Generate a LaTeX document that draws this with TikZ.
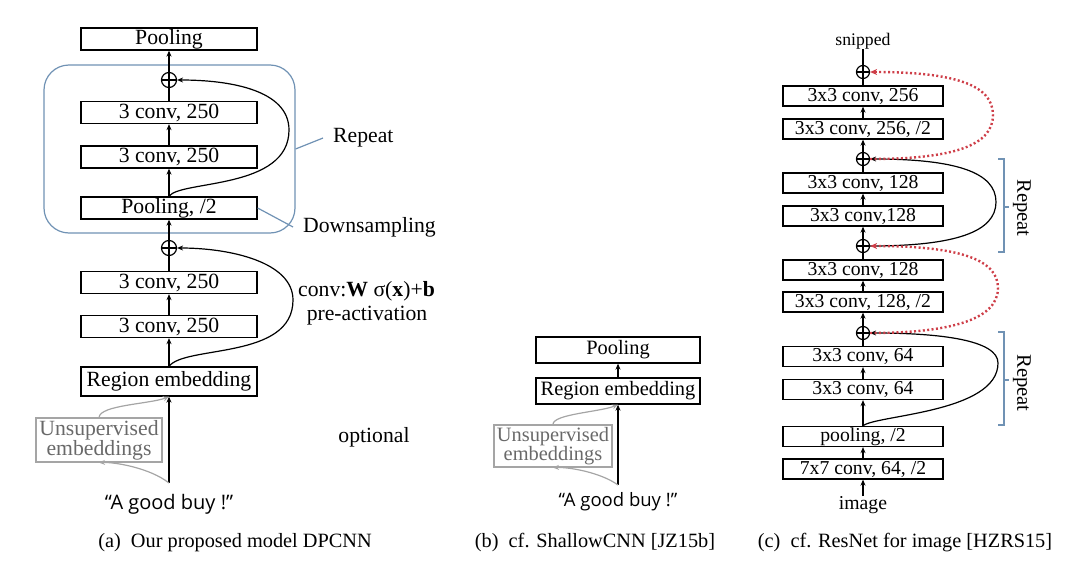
\documentclass[tikz,border=0pt]{standalone}
\usepackage{fontspec}
\setmainfont{Liberation Serif}
\newfontfamily\comicfont{Open Sans}
\usetikzlibrary{arrows.meta}

\definecolor{repblue}{RGB}{112,146,180}
\definecolor{skipred}{RGB}{206,62,72}
\definecolor{unsgray}{RGB}{165,165,165}
\definecolor{unstext}{RGB}{105,105,105}

\tikzset{
  layer/.style={draw, line width=1.3pt, inner sep=0pt, minimum width=176pt, minimum height=22pt,
                font=\fontsize{21.7}{24}\selectfont},
  layerb/.style={layer, minimum width=164pt, minimum height=26pt, font=\fontsize{20.4}{23}\selectfont},
  layerc/.style={layer, minimum width=160pt, minimum height=20pt, font=\fontsize{19.7}{22}\selectfont},
  addnode/.style={circle, draw, line width=1.2pt, inner sep=0pt, minimum size=#1,
                  path picture={\draw[line width=1.2pt] (path picture bounding box.north) -- (path picture bounding box.south)
                                (path picture bounding box.west) -- (path picture bounding box.east);}},
  unsup/.style={draw=unsgray, line width=1.2pt, inner sep=0pt, text=unstext, align=center},
  link/.style={line width=1.2pt, -{Stealth[length=6pt,width=5pt]}},
  plain/.style={line width=1.2pt},
  graylink/.style={draw=unsgray, line width=1.2pt, -{Stealth[length=6pt,width=5pt]}},
  skip/.style={line width=1.2pt, -{Stealth[length=6pt,width=5pt]}},
  redskip/.style={draw=skipred, line width=2.4pt, dash pattern=on 2pt off 2.4pt,
                  -{Stealth[length=7pt,width=6pt]}},
  note/.style={inner sep=0pt, font=\fontsize{21.7}{24}\selectfont},
  caption/.style={inner sep=0pt, font=\fontsize{20.3}{23}\selectfont},
}

\begin{document}
\begin{tikzpicture}[x=1pt, y=-1pt]
\useasboundingbox (0,0) rectangle (1080,565);

% (a) DPCNN
\node[draw=repblue, line width=1.2pt, rounded corners=25pt, minimum width=251pt, minimum height=168pt] (rep) at (169.5,149) {};
\node[layer] (poolA) at (169,39) {Pooling};
\node[addnode=15pt] (addA1) at (169,80) {};
\node[layer] (convA4) at (169,112.5) {3 conv, 250};
\node[layer] (convA3) at (169,157) {3 conv, 250};
\node[layer] (downA) at (169,208) {Pooling, /2};
\node[addnode=15pt] (addA2) at (169,248) {};
\node[layer] (convA2) at (169,282.5) {3 conv, 250};
\node[layer] (convA1) at (169,326.5) {3 conv, 250};
\node[layer, minimum height=29pt] (regA) at (169,381.5) {Region embedding};
\node[unsup, minimum width=126pt, minimum height=44pt, font=\fontsize{21.7}{20}\selectfont] (unsA) at (99,440) {Unsupervised\\embeddings};
\coordinate (srcA) at (169,483);
\node[inner sep=0pt, font=\comicfont\fontsize{20}{22}\selectfont] (buyA) at (169,504) {“A good buy !”};

\draw[link] (addA1) -- (poolA);
\draw[plain] (convA4) -- (addA1);
\draw[link] (convA3) -- (convA4);
\draw[link] (downA) -- (convA3);
\draw[link] (addA2) -- (downA);
\draw[plain] (convA2) -- (addA2);
\draw[link] (convA1) -- (convA2);
\draw[link] (regA) -- (convA1);
\draw[link] (srcA) -- (regA);
\draw[skip] (downA.north) .. controls (180,180) and (289,190) .. (289,130) .. controls (289,90) and (230,80) .. (addA1.east);
\draw[skip] (regA.north) .. controls (185,345) and (293,360) .. (293,300) .. controls (293,262) and (230,248) .. (addA2.east);
\draw[graylink] (srcA) .. controls (150,468) and (115,462) .. (unsA.south);
\draw[graylink] (unsA.north) .. controls (100,405) and (150,404) .. (regA.south);

\node[note, anchor=west] (repT) at (333,138) {Repeat};
\node[note, anchor=west] (downT) at (303,227) {Downsampling};
\draw[repblue, line width=1.2pt] (rep.east) -- ([xshift=-10pt]repT.west);
\draw[repblue, line width=1.2pt] (downA.east) -- ([xshift=-10pt]downT.west);
\node[note, anchor=west] (convT) at (298,291) {conv:$\mathbf{W}$ σ($\mathbf{x}$)+$\mathbf{b}$};
\node[note] (preT) at (367,316) {pre-activation};
\node[note] (optT) at (374,437) {optional};
\node[caption] (capA) at (235,543) {(a)\ \ Our proposed model DPCNN};

% (b) ShallowCNN
\node[layerb] (poolB) at (618,350) {Pooling};
\node[layerb] (regB) at (618,391) {Region embedding};
\node[unsup, minimum width=118pt, minimum height=42pt, font=\fontsize{20.4}{19}\selectfont] (unsB) at (553,446) {Unsupervised\\embeddings};
\coordinate (srcB) at (618,485);
\node[inner sep=0pt, font=\comicfont\fontsize{18.5}{20}\selectfont] (buyB) at (618,502) {“A good buy !”};
\draw[link] (regB) -- (poolB);
\draw[link] (srcB) -- (regB);
\draw[graylink] (srcB) .. controls (600,472) and (568,467) .. (unsB.south);
\draw[graylink] (unsB.north) .. controls (553,414) and (600,412) .. (regB.south);
\node[caption] (capB) at (595,543) {(b)\ \ cf. ShallowCNN [JZ15b]};

% (c) ResNet
\node[inner sep=0pt, font=\fontsize{17.7}{20}\selectfont] (snipT) at (863,41) {snipped};
\node[addnode=13pt] (addC1) at (863,72) {};
\node[layerc] (convC8) at (863,96) {3x3 conv, 256};
\node[layerc] (convC7) at (863,129) {3x3 conv, 256, /2};
\node[addnode=13pt] (addC2) at (863,159) {};
\node[layerc] (convC6) at (863,183) {3x3 conv, 128};
\node[layerc] (convC5) at (863,216) {3x3 conv,128};
\node[addnode=13pt] (addC3) at (863,246) {};
\node[layerc] (convC4) at (863,270) {3x3 conv, 128};
\node[layerc] (convC3) at (863,302) {3x3 conv, 128, /2};
\node[addnode=13pt] (addC4) at (863,333) {};
\node[layerc] (convC2) at (863,356.5) {3x3 conv, 64};
\node[layerc] (convC1) at (863,389.5) {3x3 conv, 64};
\node[layerc] (poolC) at (863,436.5) {pooling, /2};
\node[layerc] (stemC) at (863,469) {7x7 conv, 64, /2};
\node[inner sep=0pt, font=\fontsize{19.7}{22}\selectfont] (imgT) at (863,505) {image};

\draw[plain] (addC1) -- (snipT);
\draw[plain] (convC8) -- (addC1);
\draw[link] (convC7) -- (convC8);
\draw[link] (addC2) -- (convC7);
\draw[plain] (convC6) -- (addC2);
\draw[link] (convC5) -- (convC6);
\draw[link] (addC3) -- (convC5);
\draw[plain] (convC4) -- (addC3);
\draw[link] (convC3) -- (convC4);
\draw[link] (addC4) -- (convC3);
\draw[plain] (convC2) -- (addC4);
\draw[link] (convC1) -- (convC2);
\draw[link] (poolC) -- (convC1);
\draw[link] (stemC) -- (poolC);
\draw[link] (imgT) -- (stemC);

\draw[skip] (addC3.east) .. controls (955,246) and (996,232) .. (996,202) .. controls (996,172) and (955,159) .. (addC2.east);
\draw[skip] (poolC.north) .. controls (875,415) and (998,413) .. (998,363) .. controls (998,340) and (940,333) .. (addC4.east);
\draw[redskip] (addC2.east) .. controls (955,159) and (993,145) .. (993,115) .. controls (993,85) and (955,72) .. (addC1.east);
\draw[redskip] (addC4.east) .. controls (955,333) and (998,318) .. (998,288) .. controls (998,258) and (955,246) .. (addC3.east);

% repeat brackets
\draw[repblue, line width=1.2pt] (998,159) -- (1004,159) -- (1004,252) -- (998,252) (1004,207) -- (1009,207);
\draw[repblue, line width=1.2pt] (998,332) -- (1004,332) -- (1004,425) -- (998,425) (1004,380) -- (1009,380);
\node[inner sep=0pt, rotate=-90, font=\fontsize{20.6}{23}\selectfont] (repC1) at (1022,208) {Repeat};
\node[inner sep=0pt, rotate=-90, font=\fontsize{20.6}{23}\selectfont] (repC2) at (1022,383) {Repeat};
\node[caption] (capC) at (905,543) {(c)\ \ cf. ResNet for image [HZRS15]};
\end{tikzpicture}
\end{document}
